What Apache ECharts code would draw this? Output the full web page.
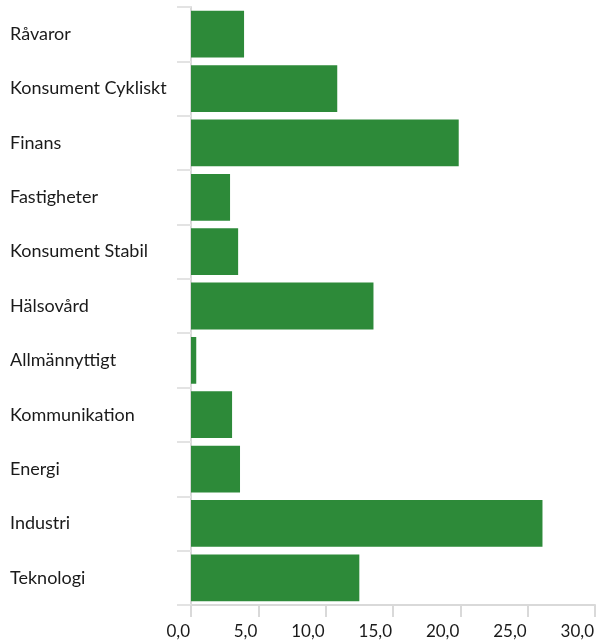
<!DOCTYPE html>
<html>
<head>
<meta charset="utf-8">
<script src="https://cdn.jsdelivr.net/npm/echarts@6/dist/echarts.min.js"></script>
<style>html,body{margin:0;padding:0;background:#fff}#c{width:597px;height:640px}</style>
</head>
<body>
<div id="c"></div>
<script>
const categories = ["Råvaror","Konsument Cykliskt","Finans","Fastigheter","Konsument Stabil","Hälsovård","Allmännyttigt","Kommunikation","Energi","Industri","Teknologi"];
const values = [3.94, 10.86, 19.88, 2.9, 3.5, 13.55, 0.39, 3.05, 3.64, 26.1, 12.5];
const xTicks = [0, 5, 10, 15, 20, 25, 30];

const chart = echarts.init(document.getElementById('c'), null, {renderer: 'canvas'});
chart.setOption({
  animation: false,
  textStyle: {fontFamily: 'Lato'},
  grid: {left: 191, right: 1, top: 7, bottom: 35, containLabel: false},
  xAxis: {
    type: 'value', min: xTicks[0], max: xTicks[xTicks.length - 1], interval: 5,
    splitLine: {show: false},
    axisLine: {show: true, lineStyle: {color: '#d9d9d9', width: 2}},
    axisTick: {show: true, length: 12, lineStyle: {color: '#d9d9d9', width: 2}},
    axisLabel: {
      color: '#1a1a1a', fontSize: 17, fontFamily: 'Lato', align: 'right', margin: 18,
      padding: [0, 1, 0, 0],
      formatter: v => v.toFixed(1).replace('.', ',')
    }
  },
  yAxis: {
    type: 'category', data: categories, inverse: true,
    axisLine: {show: true, lineStyle: {color: '#d9d9d9', width: 2}},
    axisTick: {show: true, length: 14, lineStyle: {color: '#e3e3e3', width: 2}},
    axisLabel: {color: '#1a1a1a', fontSize: 18, fontFamily: 'Lato', align: 'left', margin: 181,
      padding: [0, 0, 3, 0]}
  },
  series: [{
    type: 'bar', data: values, barCategoryGap: '14%',
    itemStyle: {color: '#2d8a39'}
  }]
});
</script>
</body>
</html>
